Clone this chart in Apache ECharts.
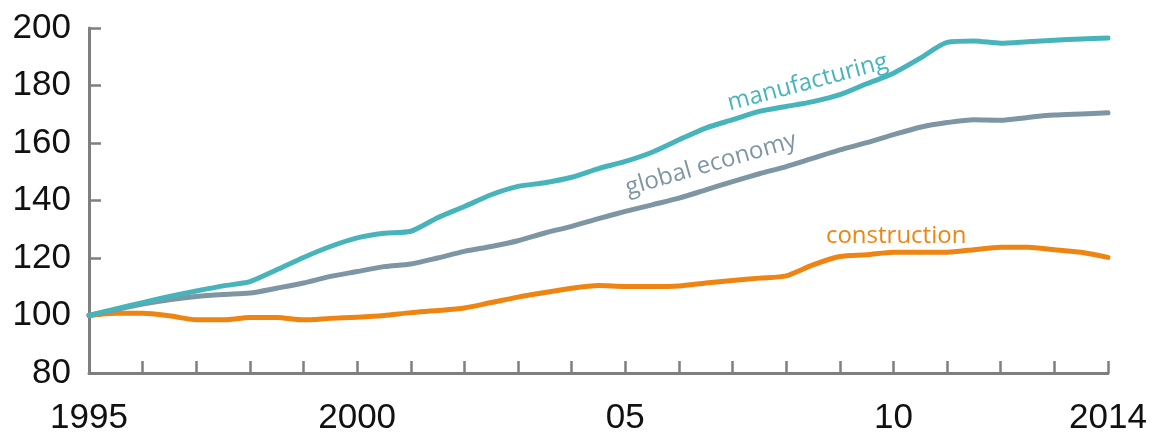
<!DOCTYPE html>
<html>
<head>
<meta charset="utf-8">
<script src="https://cdn.jsdelivr.net/npm/echarts@6/dist/echarts.min.js"></script>
<style>
  html, body { margin: 0; padding: 0; background: #ffffff; }
  #chart { width: 1153px; height: 435px; }
</style>
</head>
<body>
<div id="chart"></div>
<script>
// Index, 1995 = 100, sampled every half year
const years = [1995, 1995.5, 1996, 1996.5, 1997, 1997.5, 1998, 1998.5, 1999, 1999.5,
  2000, 2000.5, 2001, 2001.5, 2002, 2002.5, 2003, 2003.5, 2004, 2004.5,
  2005, 2005.5, 2006, 2006.5, 2007, 2007.5, 2008, 2008.5, 2009, 2009.5,
  2010, 2010.5, 2011, 2011.5, 2012, 2012.5, 2013, 2013.5, 2014];

const manufacturing = [100, 102.3, 104.5, 106.6, 108.5, 110.3, 111.8, 115.9, 120.2, 124,
  127, 128.6, 129.3, 134, 137.9, 142, 144.9, 146.2, 148.1, 151.1,
  153.6, 156.8, 161.1, 165.2, 168.1, 171, 172.7, 174.4, 176.8, 180.6,
  184.3, 189.5, 195, 195.5, 194.7, 195.2, 195.7, 196.2, 196.5];

const globalEconomy = [100, 102.1, 104, 105.5, 106.6, 107.3, 107.8, 109.5, 111.3, 113.6,
  115.3, 117, 117.9, 120, 122.3, 124, 126, 128.7, 131, 133.7,
  136.2, 138.5, 140.8, 143.7, 146.6, 149.3, 151.8, 154.7, 157.6, 160.1,
  162.9, 165.5, 167.1, 168.1, 167.9, 168.9, 169.7, 170.1, 170.5];

const construction = [100, 100.8, 100.8, 99.9, 98.5, 98.5, 99.3, 99.3, 98.5, 99,
  99.4, 100, 101, 101.7, 102.6, 104.5, 106.4, 108, 109.5, 110.4,
  110.1, 110.1, 110.3, 111.3, 112.2, 113, 113.8, 117.6, 120.5, 121.1,
  122, 122, 122, 122.9, 123.7, 123.7, 122.9, 122, 120.2];

const xTickLabels = { 1995: '1995', 2000: '2000', 2005: '05', 2010: '10', 2014: '2014' };

const seriesNames = ['manufacturing', 'global economy', 'construction'];
const seriesColors = ['#47b4bb', '#7e96a4', '#ee8412'];
// Inline label anchors (year, index value) and tilt in degrees
const labelAnchors = [[2008.4, 181.0], [2006.6, 152.6], [2010.05, 127.7]];
const labelTilt = [15, 16, 0];

const pair = (vals) => years.map((y, i) => [y, vals[i]]);

const axisGrey = '#7f7f7f';
const tickFont = '"Liberation Sans", Arial, sans-serif';
const textFont = '"Open Sans", "Noto Sans", sans-serif';

const chart = echarts.init(document.getElementById('chart'), null, { renderer: 'canvas' });

const option = {
  animation: false,
  backgroundColor: '#ffffff',
  grid: {
    left: 89, right: 45, top: 28, bottom: 62,
    containLabel: false,
    outerBoundsMode: 'none'
  },
  xAxis: {
    type: 'value',
    min: 1995, max: 2014, interval: 1,
    axisLine: { show: true, lineStyle: { color: axisGrey, width: 3 } },
    axisTick: { show: true, inside: true, length: 12, lineStyle: { color: axisGrey, width: 2.5 } },
    splitLine: { show: false },
    axisLabel: {
      margin: 28,
      fontSize: 35, fontFamily: tickFont, color: '#111111',
      showMinLabel: true, showMaxLabel: true,
      formatter: (v) => xTickLabels[Math.round(v)] || ''
    }
  },
  yAxis: {
    type: 'value',
    min: 80, max: 200, interval: 20,
    axisLine: { show: true, lineStyle: { color: axisGrey, width: 3 } },
    axisTick: { show: true, inside: true, length: 12, lineStyle: { color: axisGrey, width: 2.5 } },
    splitLine: { show: false },
    axisLabel: { margin: 18, fontSize: 35, fontFamily: tickFont, color: '#111111' }
  },
  series: [manufacturing, globalEconomy, construction].map((vals, i) => ({
    name: seriesNames[i],
    type: 'line',
    data: pair(vals),
    showSymbol: false,
    smooth: 0.25,
    lineStyle: { color: seriesColors[i], width: 5, cap: 'round', join: 'round' },
    z: 3 - i
  }))
};

chart.setOption(option);

// Place the inline series names at their data anchors
chart.setOption({
  graphic: labelAnchors.map((a, i) => {
    const p = chart.convertToPixel({ gridIndex: 0 }, a);
    return {
      type: 'text',
      x: p[0], y: p[1],
      rotation: labelTilt[i] * Math.PI / 180,
      style: {
        text: seriesNames[i],
        fill: seriesColors[i],
        font: '500 24px ' + textFont,
        align: 'center',
        verticalAlign: 'middle'
      },
      z: 10
    };
  })
});
</script>
</body>
</html>
